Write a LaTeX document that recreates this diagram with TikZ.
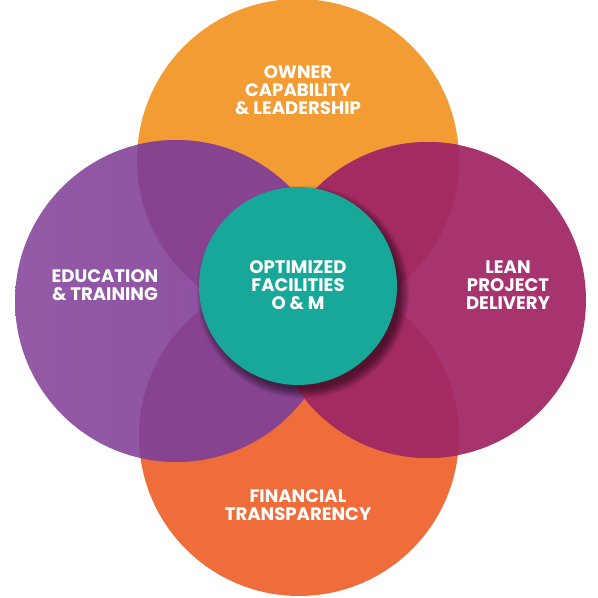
\documentclass[tikz,border=0pt]{standalone}
\usepackage{fontspec}
\setmainfont{Poppins}
\begin{document}
\begin{tikzpicture}[x=0.02cm,y=-0.02cm,
  lbl/.style={text=white, font=\bfseries\fontsize{10.3}{10.3}\selectfont, align=center, inner sep=0pt}]
\definecolor{orTop}{HTML}{F39C33}
\definecolor{orBot}{HTML}{EF6C3B}
\definecolor{purp}{HTML}{8A4C9E}
\definecolor{purpOv}{HTML}{87438F}
\definecolor{mag}{HTML}{A8346F}
\definecolor{magOv}{HTML}{A42B61}
\definecolor{teal}{HTML}{17A89A}
\useasboundingbox[fill=white] (0,0) rectangle (598,598);
\coordinate (cTop) at (298,160);
\coordinate (cBot) at (299,436);
\coordinate (cLeft) at (176,301);
\coordinate (cRight) at (428,300);
\coordinate (cMid) at (298,286);
% orange circles
\fill[orTop] (cTop) circle[radius=3.22cm];
\fill[orBot] (cBot) circle[radius=3.2cm];
% purple and magenta
\shade[left color=purp!92!white, right color=purp] (cLeft) circle[radius=3.22cm];
\fill[mag] (cRight) circle[radius=3.16cm];
% darker overlaps
\begin{scope}
  \clip (cLeft) circle[radius=3.22cm];
  \fill[purpOv] (cTop) circle[radius=3.22cm];
  \fill[purpOv] (cBot) circle[radius=3.2cm];
\end{scope}
\begin{scope}
  \clip (cRight) circle[radius=3.16cm];
  \fill[magOv] (cTop) circle[radius=3.22cm];
  \fill[magOv] (cBot) circle[radius=3.2cm];
\end{scope}
% shadow of centre circle
\foreach \i in {1,...,14}{
  \fill[black, opacity=0.045] (303,292) circle[radius={0.569pt*(96+\i*0.75)}];
}
\fill[teal] (cMid) circle[radius=1.98cm];
% labels
\node[lbl] (owner) at (298,90) {OWNER\\CAPABILITY\\\& LEADERSHIP};
\node[lbl] (edu) at (105,285) {EDUCATION\\\& TRAINING};
\node[lbl] (lean) at (508,285) {LEAN\\PROJECT\\DELIVERY};
\node[lbl] (fin) at (298,505) {FINANCIAL\\TRANSPARENCY};
\node[lbl] (opt) at (298,285) {OPTIMIZED\\FACILITIES\\O \& M};
\end{tikzpicture}
\end{document}
